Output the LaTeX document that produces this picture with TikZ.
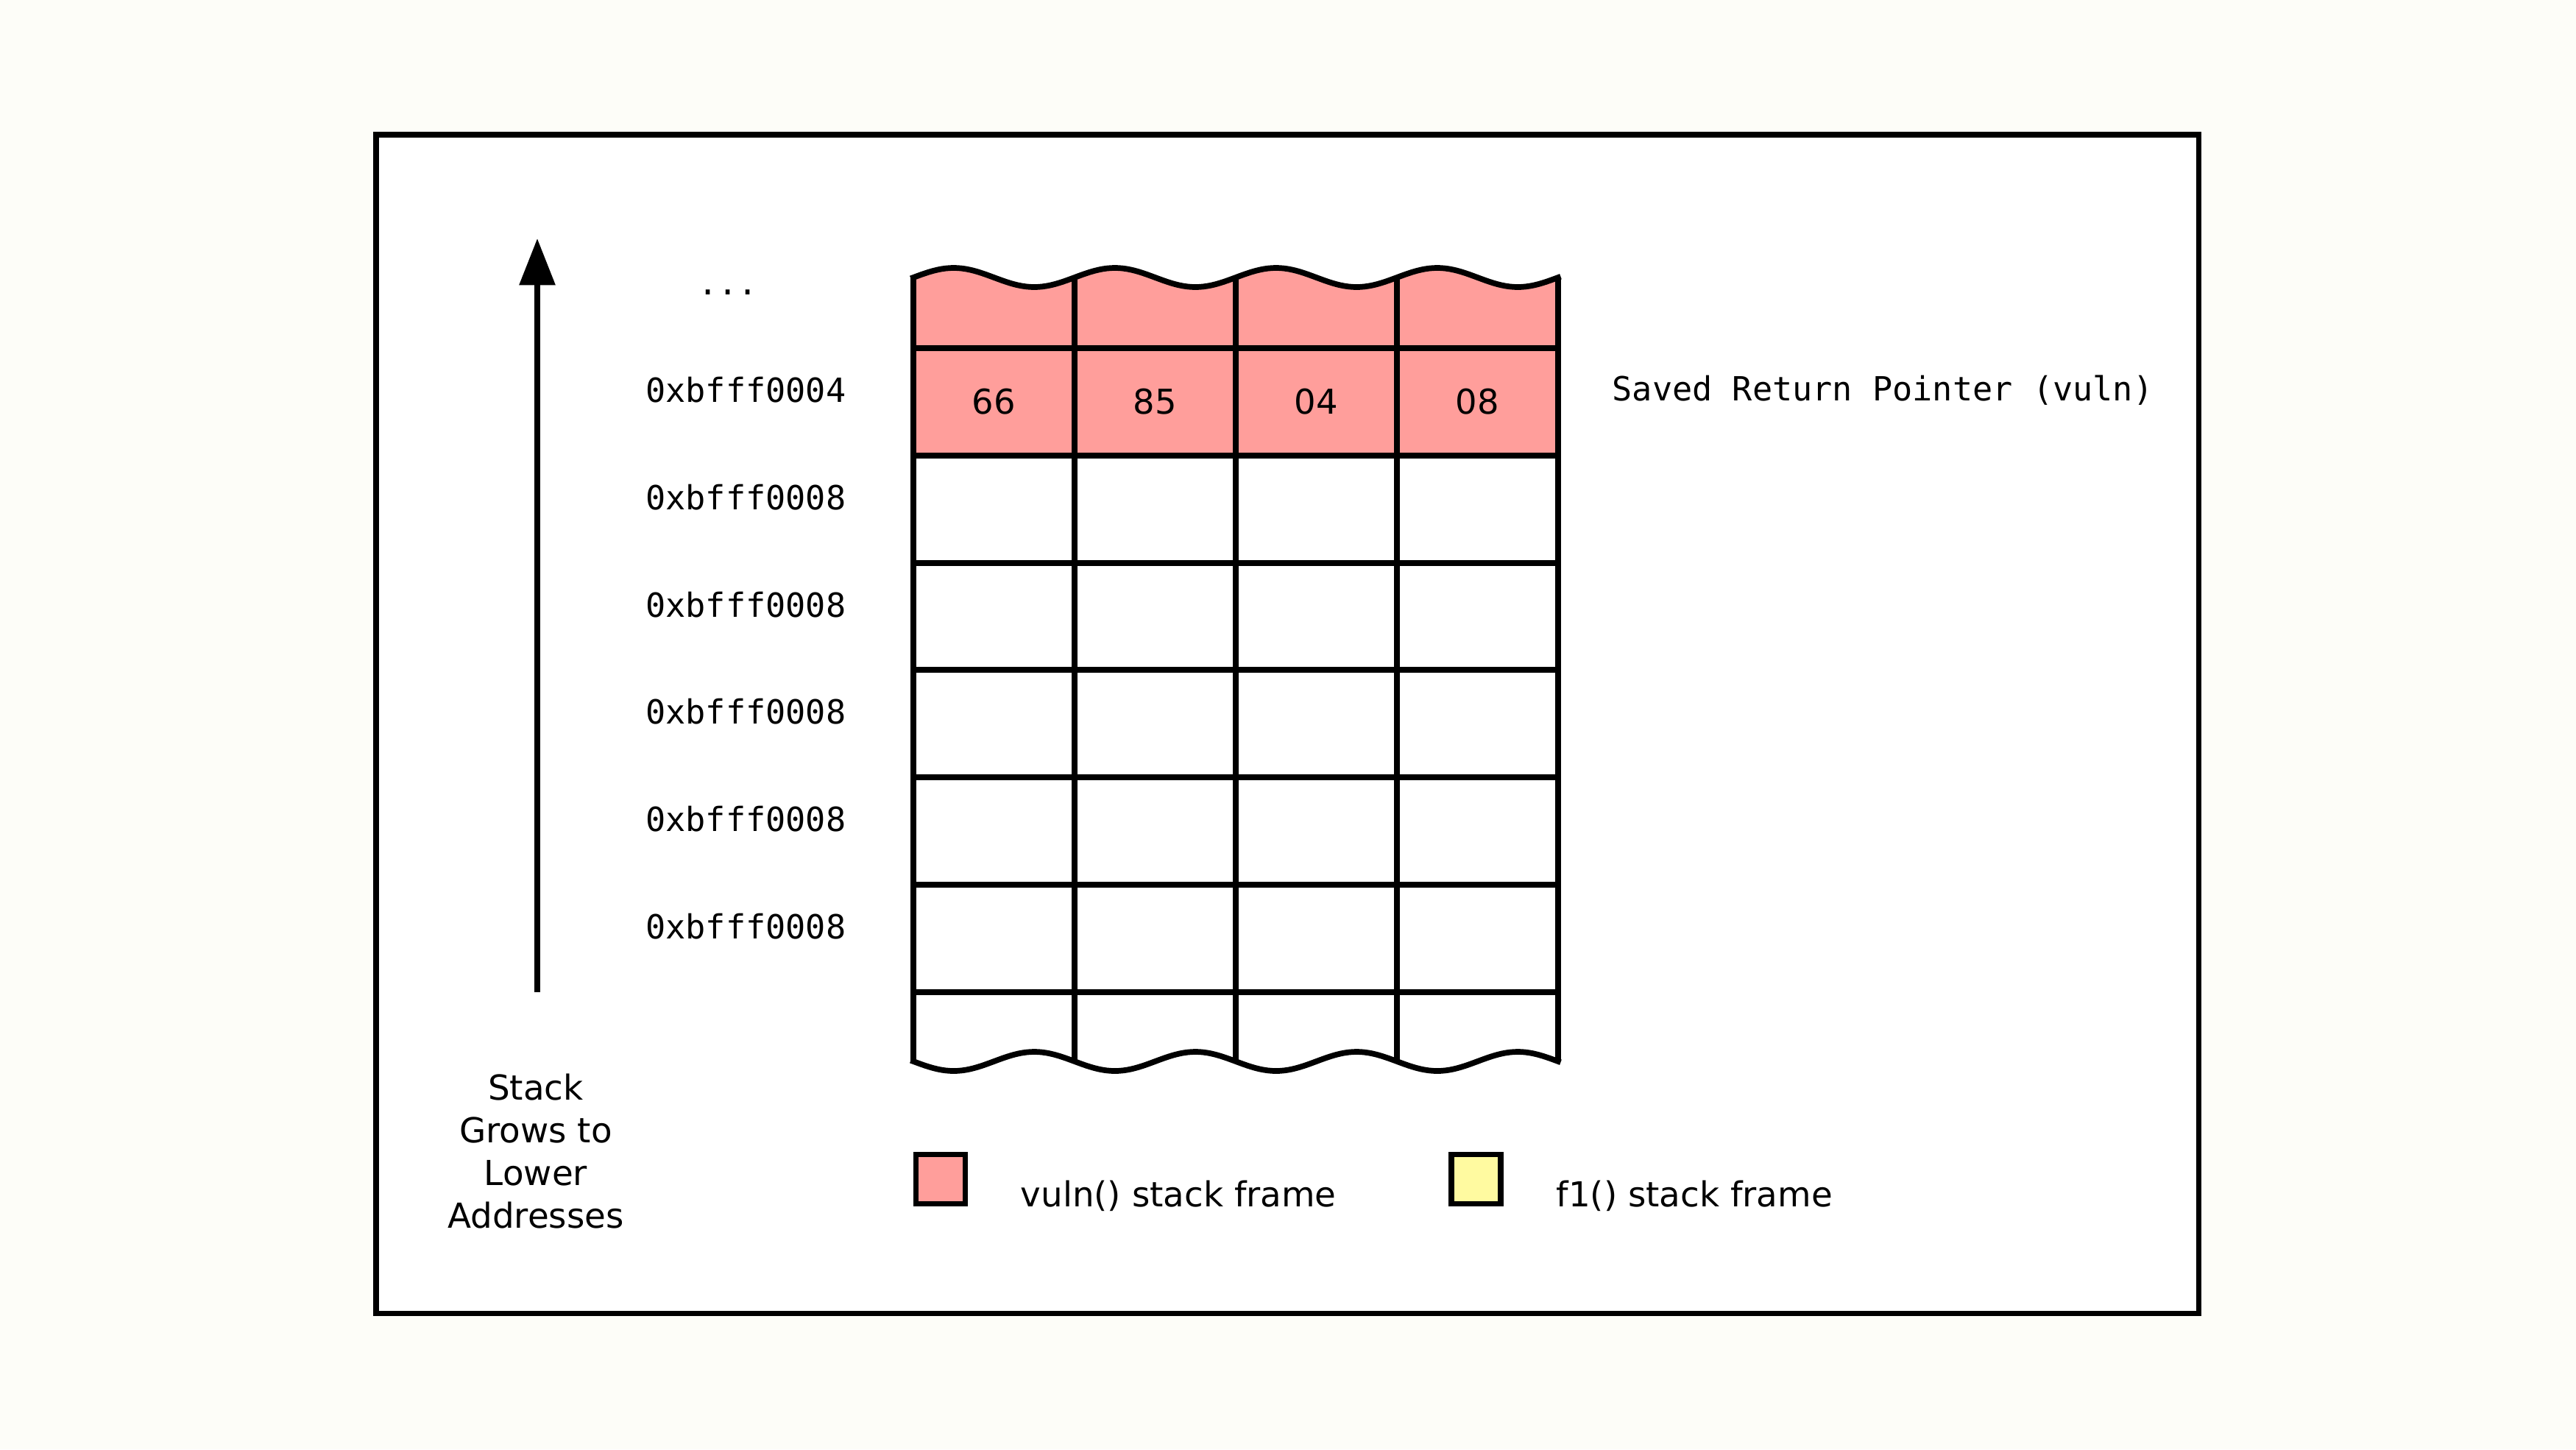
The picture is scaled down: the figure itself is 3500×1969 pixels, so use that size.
\documentclass[tikz,border=0pt]{standalone}
\usepackage{fontspec}
\setmainfont{DejaVu Sans}
\newfontfamily\monof{DejaVu Sans Mono}
\usetikzlibrary{arrows.meta}
\definecolor{bgcol}{RGB}{253,253,248}
\definecolor{vulnpink}{RGB}{255,158,155}
\definecolor{fyellow}{RGB}{255,250,160}
\begin{document}
\begin{tikzpicture}[x=0.01cm,y=-0.01cm,
  gridline/.style={line width=2.2pt, line join=round, line cap=rect},
  addr/.style={font=\monof\fontsize{12.85}{15}\selectfont, anchor=east, inner sep=0pt},
  monotxt/.style={font=\monof\fontsize{12.85}{15}\selectfont, inner sep=0pt},
  cellnum/.style={font=\fontsize{13.2}{15}\selectfont, inner sep=0pt},
  legtxt/.style={font=\fontsize{13.3}{15}\selectfont, inner sep=0pt, anchor=base west},
  legbox/.style={draw, line width=2.2pt, minimum size=0.67cm, inner sep=0pt}]
\fill[bgcol] (0,0) rectangle (3500,1969);
\useasboundingbox (0,0) rectangle (3500,1969);
% outer frame
\draw[line width=2pt, fill=white] (511,183) rectangle (2987,1784);
% pink frame area
\fill[vulnpink] plot[domain=0:4,samples=161] ({1241+219*\x},{377-13*sin(360*\x)}) -- (2117,619) -- (1241,619) -- cycle;
% grid
\foreach \yy in {473,619,765,910,1056,1202,1348}
  \draw[gridline] (1241,\yy) -- (2117,\yy);
\foreach \i in {0,...,4}
  \draw[gridline, line cap=butt] ({1241+219*\i},377) -- ({1241+219*\i},1442);
\draw[gridline] plot[domain=0:4,samples=161] ({1241+219*\x},{377-13*sin(360*\x)});
\draw[gridline] plot[domain=0:4,samples=161] ({1241+219*\x},{1442+13*sin(360*\x)});
% cell values
\node[cellnum] (c1) at (1350.5,546) {66};
\node[cellnum] (c2) at (1569.5,546) {85};
\node[cellnum] (c3) at (1788.5,546) {04};
\node[cellnum] (c4) at (2007.5,546) {08};
% addresses
\node[monotxt, anchor=base] (dots) at (989,400) {...};
\node[addr] (a1) at (1150,530) {0xbfff0004};
\node[addr] (a2) at (1150,676) {0xbfff0008};
\node[addr] (a3) at (1150,822) {0xbfff0008};
\node[addr] (a4) at (1150,967) {0xbfff0008};
\node[addr] (a5) at (1150,1113) {0xbfff0008};
\node[addr] (a6) at (1150,1259) {0xbfff0008};
\node[monotxt, anchor=west] (srp) at (2190,530) {Saved Return Pointer (vuln)};
% arrow
\coordinate (arrS) at (730,1348);
\coordinate (arrE) at (730,324);
\draw[line width=2.2pt, -{Triangle[width=13.5pt,length=18pt]}] (arrS) -- (arrE);
\node[font=\fontsize{13.3}{16.5}\selectfont, align=center, inner sep=0pt] (grow) at (728,1564)
  {Stack\\Grows to\\Lower\\Addresses};
% legend
\node[legbox, fill=vulnpink] (lv) at (1278,1602) {};
\node[legtxt] (tv) at (1386,1639) {vuln() stack frame};
\node[legbox, fill=fyellow] (lf) at (2005.5,1602) {};
\node[legtxt] (tf) at (2114,1639) {f1() stack frame};
\end{tikzpicture}
\end{document}
